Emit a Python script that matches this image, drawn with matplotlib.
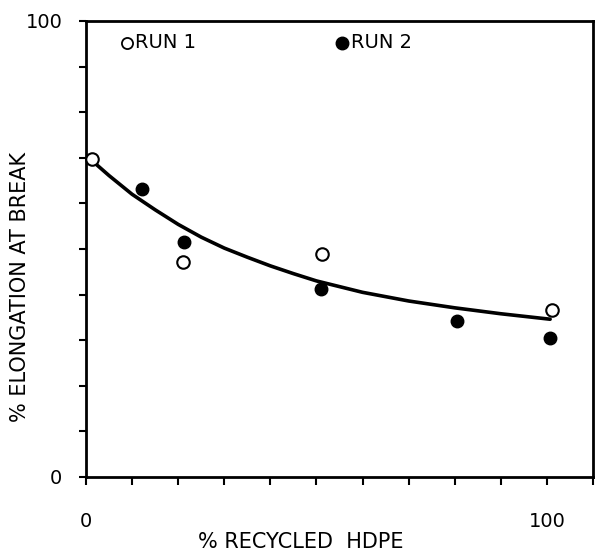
import matplotlib
matplotlib.use("Agg")
import matplotlib.pyplot as plt
from matplotlib.ticker import MultipleLocator, FixedLocator

# Data
run1_x = [1.4, 21.1, 51.3, 101.0]
run1_y = [69.7, 47.1, 48.9, 36.6]
run2_x = [12.1, 21.3, 50.9, 80.4, 100.7]
run2_y = [63.2, 51.5, 41.2, 34.3, 30.4]

# Fitted curve, read point by point
curve_x = [1.5, 5, 10, 15, 20, 25, 30, 35, 40, 45, 50, 60, 70, 80, 90, 100.7]
curve_y = [69.2, 66.1, 62.0, 58.6, 55.4, 52.6, 50.2, 48.2, 46.3, 44.6, 43.0, 40.5, 38.6, 37.1, 35.8, 34.6]

x_ticklabels = ["0", "100"]
y_ticklabels = ["0", "100"]
legend_labels = ["RUN 1", "RUN 2"]
xlabel = "% RECYCLED  HDPE"
ylabel = "% ELONGATION AT BREAK"

plt.rcParams['font.family'] = ['DejaVu Sans']

fig = plt.figure(figsize=(5.95, 5.52), dpi=100)
ax = fig.add_axes([86/595, 1-477/552, (593-86)/595, (477-21)/552])

ax.plot(curve_x, curve_y, color='black', lw=2.6, solid_capstyle='round',
        solid_joinstyle='round', zorder=2)
ax.plot(run1_x, run1_y, 'o', ms=9, mfc='white', mec='black', mew=1.5, zorder=3, clip_on=False)
ax.plot(run2_x, run2_y, 'o', ms=9, mfc='black', mec='black', zorder=3, clip_on=False)

ax.set_xlim(0, 110)
ax.set_ylim(0, 100)

ax.xaxis.set_major_locator(FixedLocator([0, 100]))
ax.yaxis.set_major_locator(FixedLocator([0, 100]))
ax.xaxis.set_minor_locator(MultipleLocator(10))
ax.yaxis.set_minor_locator(MultipleLocator(10))
ax.set_xticklabels(x_ticklabels)
ax.set_yticklabels(y_ticklabels)

ax.tick_params(axis='both', which='both', direction='out', color='black', width=1.5, labelsize=14)
ax.tick_params(axis='x', which='both', length=6, pad=19)
ax.tick_params(axis='y', which='both', length=5, pad=12)

for s in ax.spines.values():
    s.set_linewidth(2)
    s.set_color('black')

# legend (drawn in axes coordinates)
ax.plot([0.08], [0.952], 'o', ms=8, mfc='white', mec='black', mew=1.3, transform=ax.transAxes, clip_on=False)
ax.text(0.097, 0.952, legend_labels[0], transform=ax.transAxes, fontsize=14, va='center', ha='left')
ax.plot([0.504], [0.952], 'o', ms=9, mfc='black', mec='black', transform=ax.transAxes, clip_on=False)
ax.text(0.523, 0.952, legend_labels[1], transform=ax.transAxes, fontsize=14, va='center', ha='left')

fig.text(301/595, 1-542/552, xlabel, fontsize=15, ha='center', va='center')
fig.text(20/595, 1-287/552, ylabel, fontsize=15, ha='center', va='center', rotation=90)

fig.savefig("out.png", dpi=100)
